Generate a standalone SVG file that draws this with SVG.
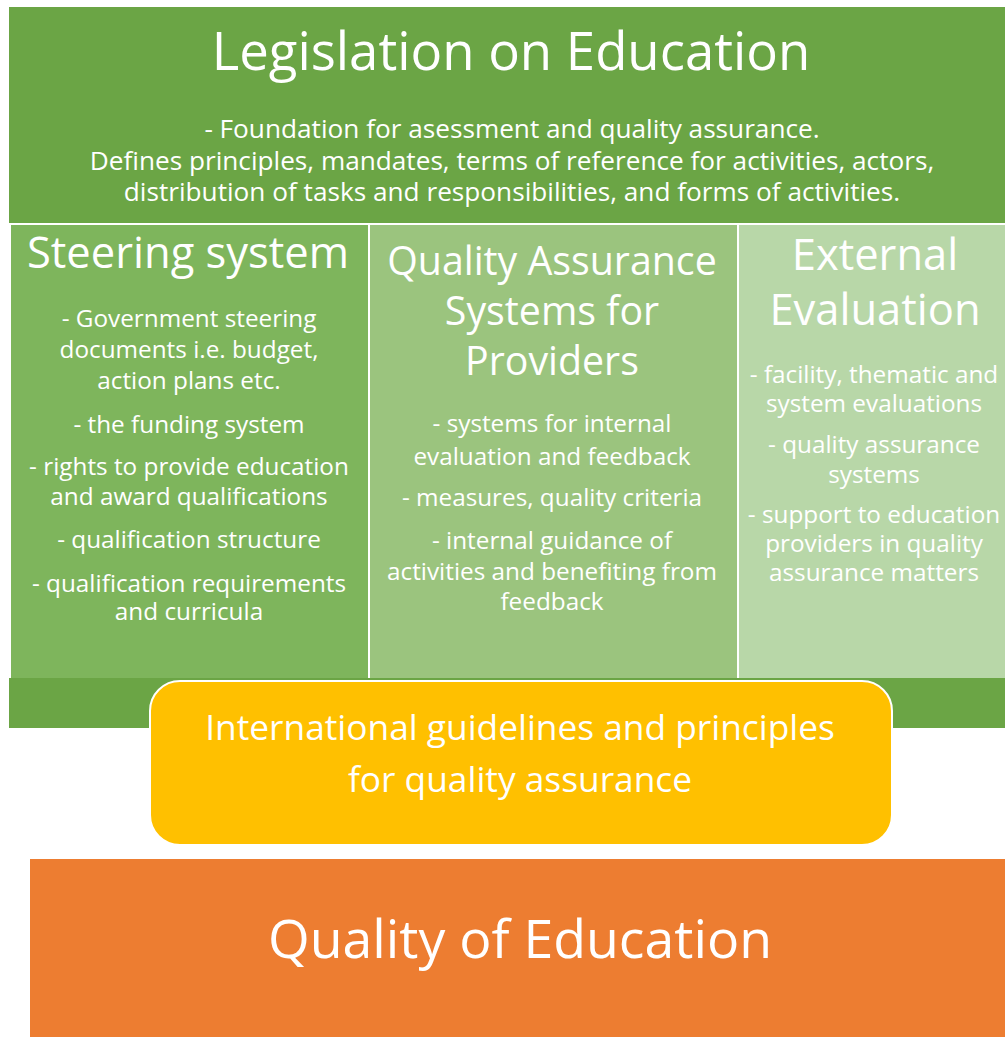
<svg xmlns="http://www.w3.org/2000/svg" width="1005" height="1037" viewBox="0 0 1005 1037">
<style>
text{font-family:"Open Sans","Noto Sans",Lato,sans-serif;fill:#fff;text-anchor:middle}
.h1{font-size:52.7px}
.hb{font-size:26.2px}
.ct{font-size:43.5px}
.cq{font-size:39.3px}
.cb{font-size:24.3px}
.yl{font-size:35.3px}
.bt{font-size:53.6px}
</style>
<rect width="1005" height="1037" fill="#fff"/>
<g id="legislation">
<rect x="9" y="7" width="996" height="216" fill="#6ba545"/>
<text class="h1" x="511" y="70">Legislation on Education</text>
<text class="hb"><tspan x="512" y="138">- Foundation for asessment and quality assurance.</tspan><tspan x="512" y="170">Defines principles, mandates, terms of reference for activities, actors,</tspan><tspan x="512" y="201">distribution of tasks and responsibilities, and forms of activities.</tspan></text>
</g>
<g id="base-band">
<rect x="9" y="678" width="996" height="50" fill="#6ba545"/>
</g>
<g id="steering">
<rect x="11" y="225" width="357" height="453" fill="#7eb55c"/>
<text class="ct" x="188" y="268">Steering system</text>
<text class="cb"><tspan x="189" y="327">- Government steering</tspan><tspan x="189" y="358">documents i.e. budget,</tspan><tspan x="189" y="389">action plans etc.</tspan></text>
<text class="cb" x="189" y="433">- the funding system</text>
<text class="cb"><tspan x="189" y="475">- rights to provide education</tspan><tspan x="189" y="505">and award qualifications</tspan></text>
<text class="cb" x="189" y="548">- qualification structure</text>
<text class="cb"><tspan x="189" y="592">- qualification requirements</tspan><tspan x="189" y="620">and curricula</tspan></text>
</g>
<g id="providers">
<rect x="370" y="225" width="367" height="453" fill="#9bc47e"/>
<text class="cq"><tspan x="552" y="275">Quality Assurance</tspan><tspan x="552" y="325">Systems for</tspan><tspan x="552" y="375">Providers</tspan></text>
<text class="cb"><tspan x="552" y="432">- systems for internal</tspan><tspan x="552" y="465">evaluation and feedback</tspan></text>
<text class="cb" x="552" y="506">- measures, quality criteria</text>
<text class="cb"><tspan x="552" y="549">- internal guidance of</tspan><tspan x="552" y="580">activities and benefiting from</tspan><tspan x="552" y="610">feedback</tspan></text>
</g>
<g id="external">
<rect x="739" y="225" width="266" height="453" fill="#b8d7a8"/>
<text class="ct"><tspan x="875" y="270">External</tspan><tspan x="875" y="325">Evaluation</tspan></text>
<text class="cb"><tspan x="874" y="383">- facility, thematic and</tspan><tspan x="874" y="412">system evaluations</tspan></text>
<text class="cb"><tspan x="874" y="453">- quality assurance</tspan><tspan x="874" y="483">systems</tspan></text>
<text class="cb"><tspan x="874" y="523">- support to education</tspan><tspan x="874" y="552">providers in quality</tspan><tspan x="874" y="581">assurance matters</tspan></text>
</g>
<g id="international">
<rect x="150" y="681" width="742" height="164" rx="30" ry="30" fill="#ffc000" stroke="#fff" stroke-width="2"/>
<text class="yl"><tspan x="520" y="740">International guidelines and principles</tspan><tspan x="520" y="792">for quality assurance</tspan></text>
</g>
<g id="quality">
<rect x="30" y="859" width="975" height="178" fill="#ed7d31"/>
<text class="bt" x="520" y="958">Quality of Education</text>
</g>
<g id="connectors"></g>
</svg>
